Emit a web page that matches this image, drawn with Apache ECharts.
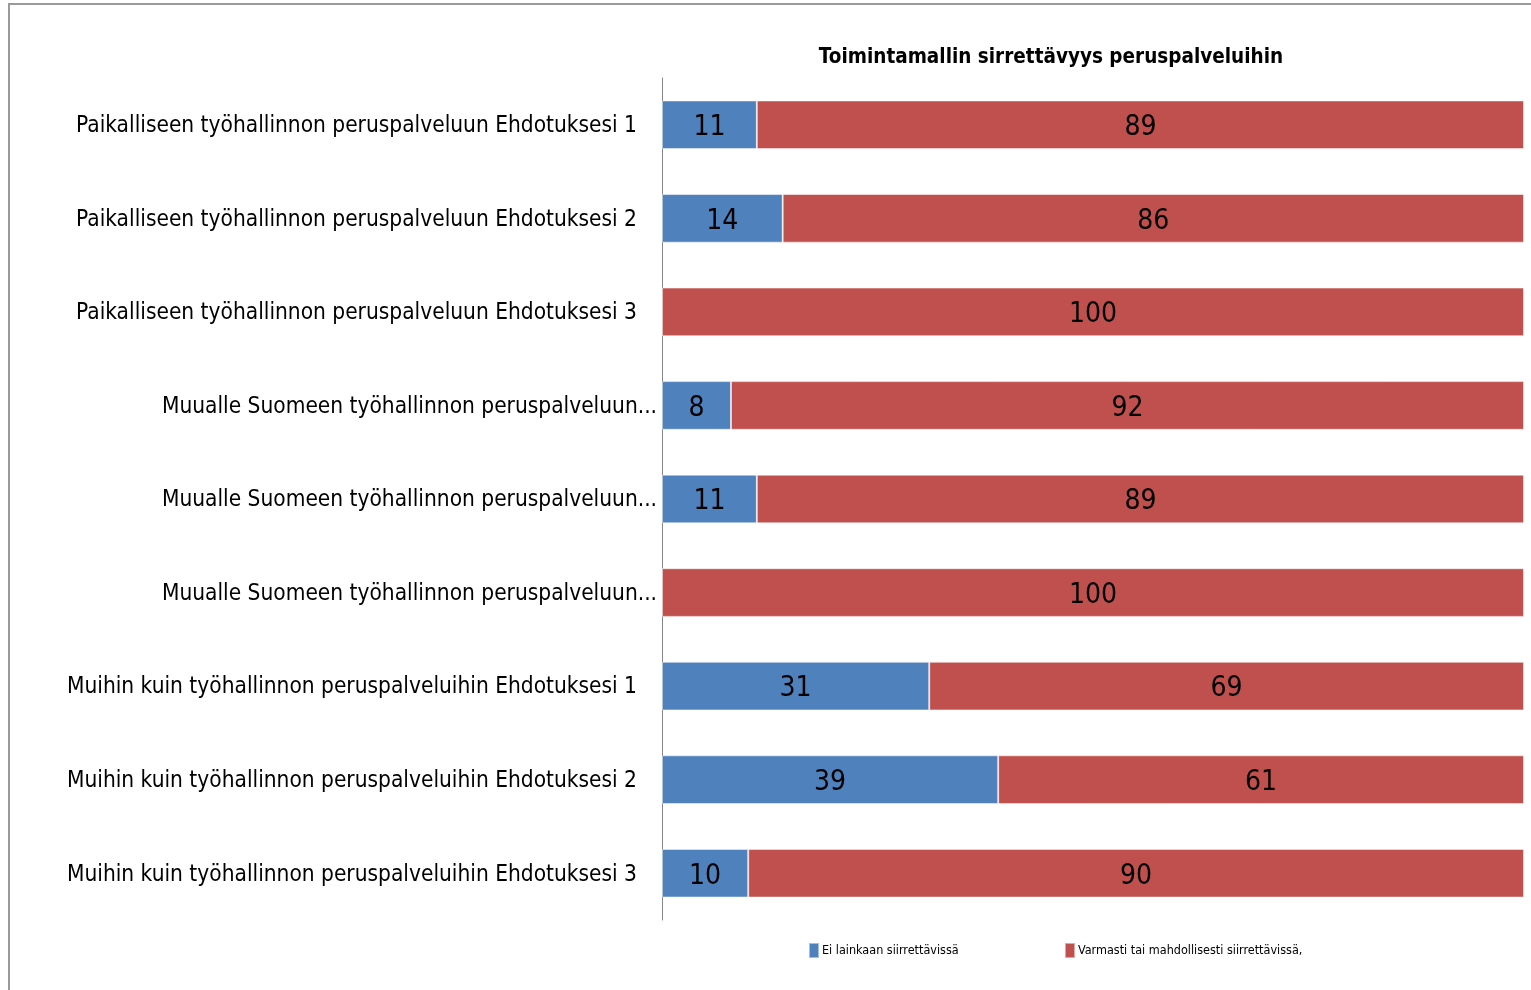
<!DOCTYPE html>
<html>
<head>
<meta charset="utf-8">
<script src="https://cdn.jsdelivr.net/npm/echarts@6/dist/echarts.min.js"></script>
<style>html,body{margin:0;padding:0;background:#fff;}#c{width:1531px;height:990px;}</style>
</head>
<body>
<div id="c"></div>
<script>
const categories = [
  'Paikalliseen työhallinnon peruspalveluun Ehdotuksesi 1',
  'Paikalliseen työhallinnon peruspalveluun Ehdotuksesi 2',
  'Paikalliseen työhallinnon peruspalveluun Ehdotuksesi 3',
  'Muualle Suomeen työhallinnon peruspalveluun...',
  'Muualle Suomeen työhallinnon peruspalveluun...',
  'Muualle Suomeen työhallinnon peruspalveluun...',
  'Muihin kuin työhallinnon peruspalveluihin Ehdotuksesi 1',
  'Muihin kuin työhallinnon peruspalveluihin Ehdotuksesi 2',
  'Muihin kuin työhallinnon peruspalveluihin Ehdotuksesi 3'
];
const seriesNames = ['Ei lainkaan siirrettävissä', 'Varmasti tai mahdollisesti siirrettävissä,'];
const notTransferable = [11, 14, 0, 8, 11, 0, 31, 39, 10];
const transferable = [89, 86, 100, 92, 89, 100, 69, 61, 90];
const titleText = 'Toimintamallin sirrettävyys peruspalveluihin';

const FONT = '"Liberation Sans Narrow", "DejaVu Sans Condensed", sans-serif';
const chart = echarts.init(document.getElementById('c'));
const labelCfg = {
  show: true, position: 'inside', offset: [0, 3], color: '#000', fontFamily: FONT, fontSize: 28,
  formatter: p => p.value === 0 ? '' : String(p.value)
};
chart.setOption({
  animation: false,
  title: {
    text: titleText, left: 1046, top: 42, textAlign: 'center',
    textStyle: { fontFamily: FONT, fontWeight: 'bold', fontSize: 20.5, color: '#000' }
  },
  legend: [
    { data: [seriesNames[0]], left: 808, top: 942, padding: 0, icon: 'rect', itemWidth: 10, itemHeight: 15, itemGap: 0,
      textStyle: { fontFamily: FONT, fontSize: 12.5, color: '#000', padding: [0,0,0,-2] } },
    { data: [seriesNames[1]], left: 1064, top: 942, padding: 0, icon: 'rect', itemWidth: 10, itemHeight: 15, itemGap: 0,
      textStyle: { fontFamily: FONT, fontSize: 12.5, color: '#000', padding: [0,0,0,-2] } }
  ],
  graphic: [
    { type: 'line', shape: { x1: 8, y1: 4, x2: 1531, y2: 4 }, style: { stroke: '#9a9a9a', lineWidth: 2 } },
    { type: 'line', shape: { x1: 9, y1: 4, x2: 9, y2: 990 }, style: { stroke: '#9a9a9a', lineWidth: 2 } }
  ],
  grid: { left: 662, right: 7, top: 78, bottom: 70, containLabel: false, outerBoundsMode: 'none' },
  xAxis: { type: 'value', min: 0, max: 100, show: false },
  yAxis: {
    type: 'category', data: categories, inverse: true,
    axisLine: { show: true, lineStyle: { color: '#868686', width: 1 } },
    axisTick: { show: false },
    axisLabel: {
      margin: 5, color: '#000', fontFamily: FONT, fontSize: 22.5,
      formatter: v => v.endsWith('...') ? '{t|' + v + '}' : '{f|' + v + '}',
      rich: {
        t: { fontFamily: FONT, fontSize: 22.5, color: '#000', padding: [3, 0, 0, 0] },
        f: { fontFamily: FONT, fontSize: 22.5, color: '#000', padding: [3, 20, 0, 0] }
      }
    }
  },
  series: [
    { name: seriesNames[0], type: 'bar', stack: 's', data: notTransferable, barCategoryGap: '48%',
      itemStyle: { color: '#4F81BD', borderColor: 'rgba(255,255,255,0.5)', borderWidth: 1 }, label: labelCfg },
    { name: seriesNames[1], type: 'bar', stack: 's', data: transferable, barCategoryGap: '48%',
      itemStyle: { color: '#C0504D', borderColor: 'rgba(255,255,255,0.5)', borderWidth: 1 }, label: labelCfg }
  ]
});
</script>
</body>
</html>
